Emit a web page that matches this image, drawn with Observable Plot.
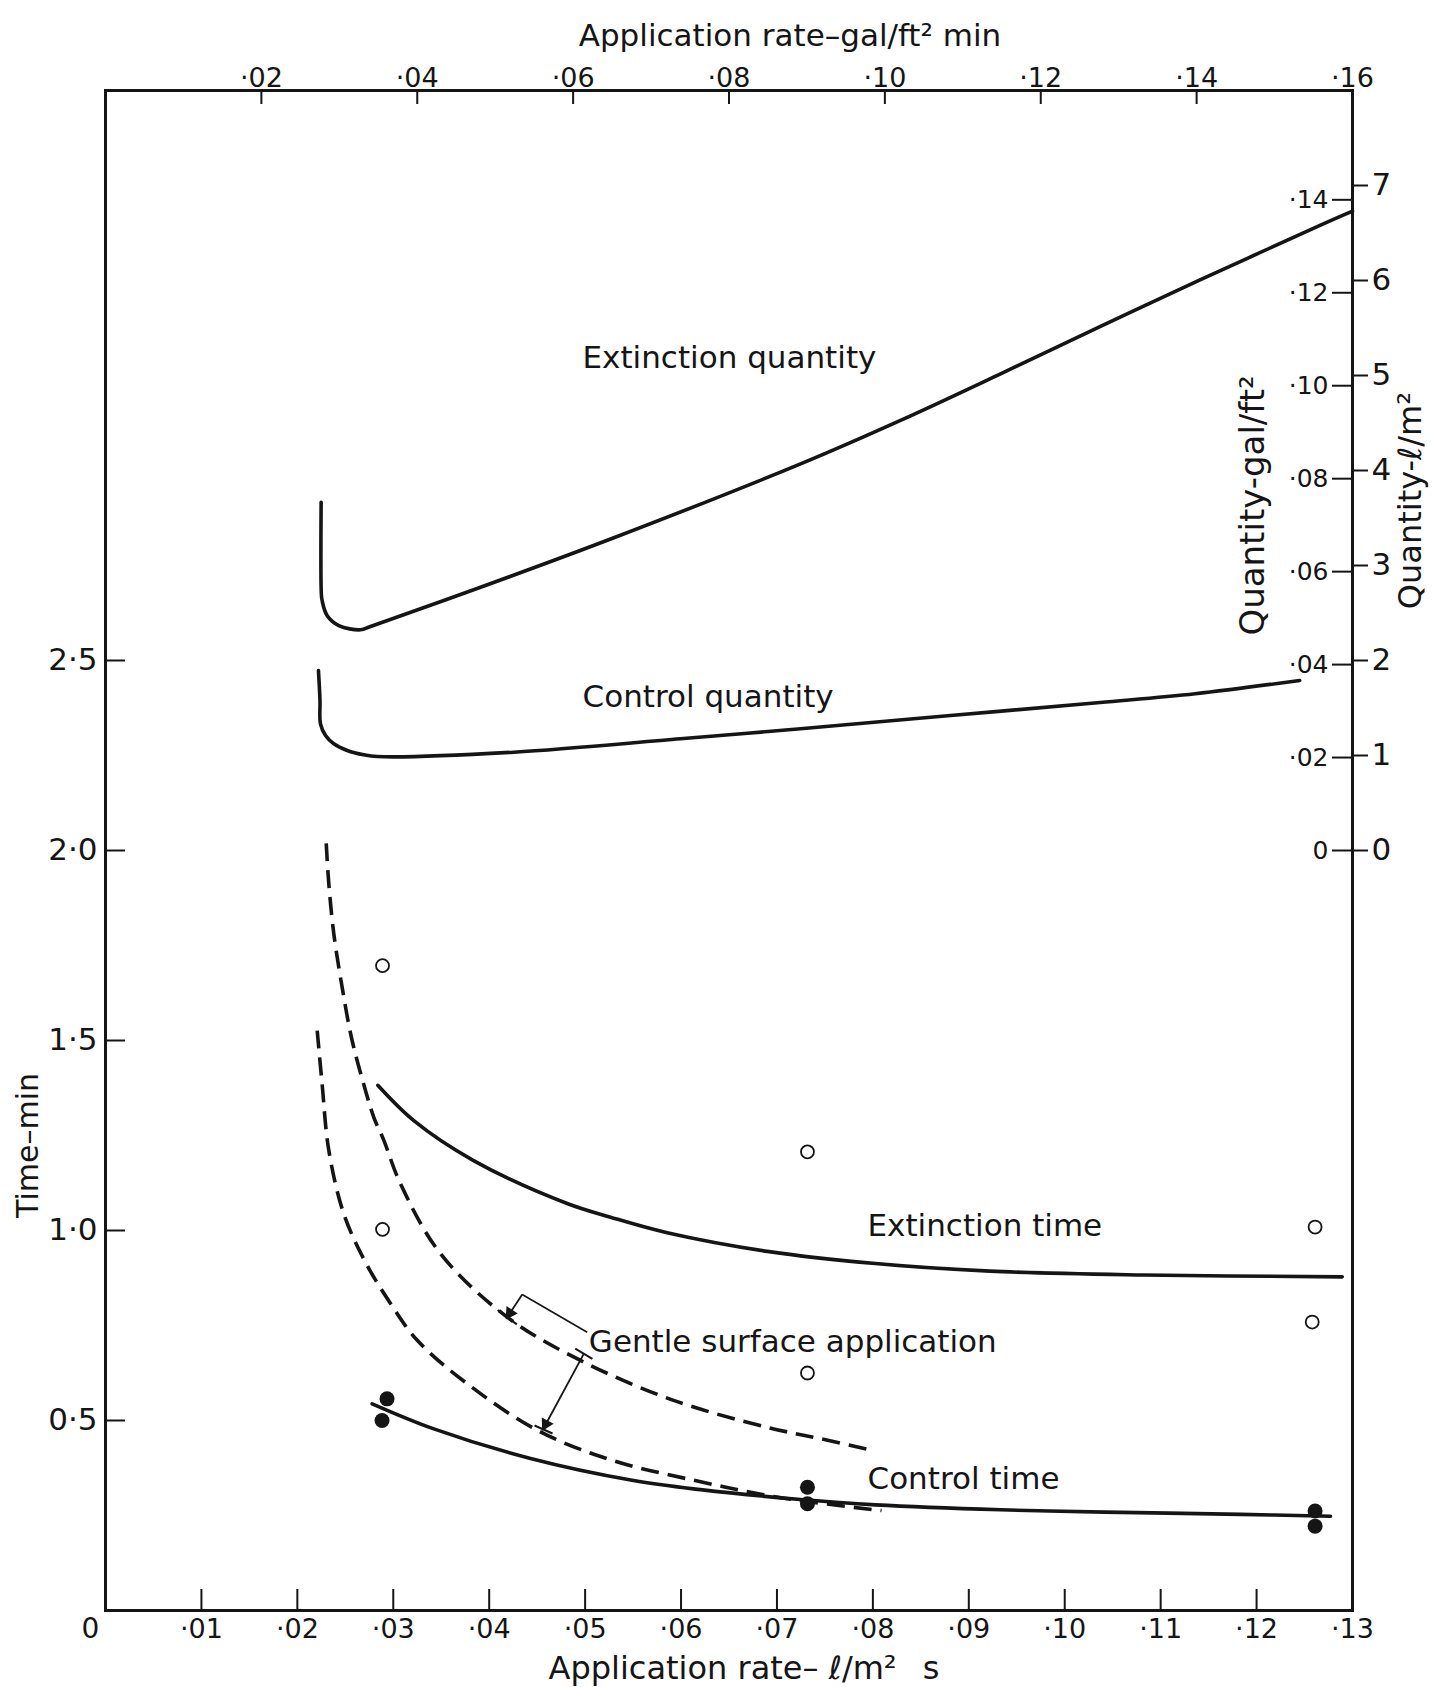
<!DOCTYPE html>
<html>
<head>
<meta charset="utf-8">
<script src="https://cdn.jsdelivr.net/npm/d3@7"></script>
<script src="https://cdn.jsdelivr.net/npm/@observablehq/plot@0.6"></script>
<style>
  html, body { margin: 0; padding: 0; background: #fff; }
  svg { display: block; }
</style>
</head>
<body>
<div id="chart"></div>
<script>
// ---------- tick values ----------
const rateTicks = [0.01,0.02,0.03,0.04,0.05,0.06,0.07,0.08,0.09,0.10,0.11,0.12,0.13]; // l/m² s
const rateGalTicks = [0.02,0.04,0.06,0.08,0.10,0.12,0.14,0.16];                      // gal/ft² min
const timeTicks = [0.5,1.0,1.5,2.0,2.5];                                                // min
const qtyLTicks = [0,1,2,3,4,5,6,7];                                                    // l/m²
const qtyGalTicks = [0,0.02,0.04,0.06,0.08,0.10,0.12,0.14];                             // gal/ft²

// unit conversions of the secondary axes
const RATE_GAL_PER_L = 0.16 / 0.13;   // gal/ft² min per l/m² s (as drawn)
const QTY_GAL_PER_L = 0.02044;        // UK gal/ft² per l/m²
const QTY_ZERO_TIME = 2.0;            // quantity axis zero sits at 2.0 min
const QTY_TIME_PER_L = 0.25;          // 1 l/m² spans 0.25 min on the time axis

// ---------- series (x: application rate l/m² s) ----------
const extQtyRate = [0.02248,0.02250,0.02258,0.02310,0.02432,0.02659,0.02763,0.0391,0.0530,0.07246,0.08288,0.09331,0.10373,0.11416,0.12667,0.1300];
const extQtyVal  = [3.666,2.705,2.632,2.474,2.368,2.323,2.358,2.771,3.292,4.070,4.528,5.018,5.518,6.008,6.583,6.73]; // l/m²

const ctlQtyRate = [0.02220,0.02236,0.02241,0.02294,0.02380,0.02520,0.02693,0.02833,0.04257,0.05994,0.07246,0.0881,0.1037,0.1136,0.1245];
const ctlQtyVal  = [1.895,1.579,1.333,1.210,1.123,1.053,1.007,0.989,1.035,1.176,1.281,1.421,1.558,1.650,1.790]; // l/m²

const extTimeRate = [0.02839,0.03214,0.03837,0.04813,0.05265,0.05856,0.0690,0.08026,0.09222,0.10818,0.12893];
const extTimeVal  = [1.382,1.289,1.184,1.071,1.035,0.994,0.945,0.913,0.893,0.883,0.878]; // min

const ctlTimeRate = [0.0278,0.03423,0.04431,0.05504,0.06203,0.07246,0.08028,0.09331,0.10415,0.11833,0.12771];
const ctlTimeVal  = [0.544,0.478,0.400,0.342,0.318,0.292,0.278,0.265,0.259,0.253,0.248]; // min

const gentleExtRate = [0.02301,0.02328,0.02380,0.02467,0.02571,0.02711,0.02797,0.02902,0.03075,0.03492,0.04188,0.04952,0.05922,0.0690,0.07454,0.08006];
const gentleExtVal  = [2.019,1.912,1.781,1.640,1.500,1.368,1.298,1.237,1.123,0.939,0.772,0.658,0.553,0.482,0.452,0.421];

const gentleCtlRate = [0.02207,0.02258,0.02328,0.02484,0.02711,0.02971,0.03250,0.03770,0.04504,0.05283,0.06147,0.07011,0.08090];
const gentleCtlVal  = [1.526,1.386,1.211,1.044,0.916,0.808,0.711,0.597,0.474,0.395,0.342,0.298,0.263];

const extObsRate = [0.02888,0.02888,0.07318,0.07318,0.1261,0.1258];
const extObsVal  = [1.697,1.003,1.207,0.625,1.009,0.759];
const ctlObsRate = [0.02935,0.02883,0.07318,0.07318,0.1261,0.1261];
const ctlObsVal  = [0.557,0.500,0.3245,0.281,0.262,0.222];

// ---------- annotation text ----------
const curveLabels = ["Extinction quantity","Control quantity","Extinction time","Gentle surface application","Control time"];
const curveLabelRate = [0.04973,0.04973,0.07944,0.05039,0.07944];
const curveLabelVal  = [3.297,2.405,1.0105,0.706,0.345]; // min-axis units

// leader for "Gentle surface application"
const leaderX1 = [0.05022], leaderY1 = [0.7324], leaderX2 = [0.04344], leaderY2 = [0.8316];
const arrowX1 = [0.04344,0.04986], arrowY1 = [0.8316,0.6755], arrowX2 = [0.04188,0.04566], arrowY2 = [0.7718,0.479];
const barX1 = [0.04088,0.04897,0.04473], barY1 = [0.7908,0.689,0.4868];
const barX2 = [0.04288,0.05076,0.04660], barY2 = [0.7529,0.662,0.4658];

// ---------- helpers ----------
const qToTime = q => QTY_ZERO_TIME + q * QTY_TIME_PER_L;
const rows = (xs, ys) => xs.map((x, i) => ({x, y: ys[i]}));
const dotFmt = v => { const n = Math.round(v * 100); return n === 0 ? "0" : "\u00B7" + String(n).padStart(2, "0"); };

const W = 1432, H = 1687;
const mL = 105, mR = 80, mT = 90, mB = 77;
const INK = "#151515";
const FONT = "DejaVu Sans";
const kx = (W - mL - mR) / 0.13, ky = (H - mT - mB) / 4; // px per data unit (for arrowhead orientation)

const arrows = arrowX1.map((x1, i) => ({x1, y1: arrowY1[i], x2: arrowX2[i], y2: arrowY2[i]}));
const heads = arrows.map(a => {
  const sx = (a.x2 - a.x1) * kx, sy = -(a.y2 - a.y1) * ky;
  const len = Math.hypot(sx, sy), ux = sx / len, uy = sy / len;
  return {x: a.x2 - 5 * ux / kx, y: a.y2 + 5 * uy / ky, a: Math.atan2(sx, -sy) * 180 / Math.PI};
});

const lineStyle = {x: "x", y: "y", curve: "catmull-rom", stroke: INK, strokeWidth: 3.6, strokeLinecap: "round"};
const dashStyle = {...lineStyle, strokeDasharray: "18,9", strokeLinecap: "butt"};

const chart = Plot.plot({
  width: W, height: H,
  marginLeft: mL, marginRight: mR, marginTop: mT, marginBottom: mB,
  style: {fontFamily: FONT, background: "#fff", color: INK},
  x: {domain: [0, 0.13], label: null},
  y: {domain: [0, 4], label: null},
  marks: [
    Plot.frame({stroke: INK, strokeWidth: 3}),

    // bottom axis: inner ticks + labels
    Plot.axisX({anchor: "bottom", ticks: rateTicks, tickSize: 21, dy: -21, fill: "none", stroke: INK, strokeWidth: 2, label: null}),
    Plot.axisX({anchor: "bottom", ticks: rateTicks, tickSize: 0, tickPadding: 8, tickFormat: dotFmt, fontSize: 27, label: null}),
    Plot.axisX({anchor: "bottom", ticks: [0], tickSize: 0, tickPadding: 8, tickFormat: () => "0", dx: -15, fontSize: 28, label: null}),

    // top axis (gal/ft² min)
    Plot.axisX({anchor: "top", ticks: rateGalTicks.map(v => v / RATE_GAL_PER_L), tickSize: 13, dy: 13, fill: "none", stroke: INK, strokeWidth: 2, label: null}),
    Plot.axisX({anchor: "top", ticks: rateGalTicks.map(v => v / RATE_GAL_PER_L), tickSize: 0, tickPadding: 4, tickFormat: d => dotFmt(d * RATE_GAL_PER_L), fontSize: 27, label: null}),

    // left axis (time)
    Plot.axisY({anchor: "left", ticks: timeTicks, tickSize: 20, dx: 20, fill: "none", stroke: INK, strokeWidth: 2, label: null}),
    Plot.axisY({anchor: "left", ticks: timeTicks, tickSize: 0, tickPadding: 8, tickFormat: d => d.toFixed(1).replace(".", "\u00B7"), fontSize: 31, label: null}),

    // right axis, l/m² (outside)
    Plot.axisY({anchor: "right", ticks: qtyLTicks.map(qToTime), tickSize: 15, tickPadding: 4, stroke: INK, strokeWidth: 2,
      tickFormat: d => String(Math.round((d - QTY_ZERO_TIME) / QTY_TIME_PER_L)), fontSize: 31, label: null}),
    // right axis, gal/ft² (inside)
    Plot.axisY({anchor: "left", dx: W - mL - mR, ticks: qtyGalTicks.map(g => qToTime(g / QTY_GAL_PER_L)), tickSize: 20, tickPadding: 4, stroke: INK, strokeWidth: 2,
      tickFormat: d => dotFmt(((d - QTY_ZERO_TIME) / QTY_TIME_PER_L) * QTY_GAL_PER_L), fontSize: 25, label: null}),

    // axis titles
    Plot.text(["Application rate\u2013gal/ft\u00B2 min"], {frameAnchor: "top", textAnchor: "middle", lineAnchor: "middle", dx: 61, dy: -54, fontSize: 31, fill: INK}),
    Plot.text(["Application rate\u2013 \u2113/m\u00B2\u2002 s"], {frameAnchor: "bottom", textAnchor: "middle", lineAnchor: "middle", dx: 15, dy: 58, fontSize: 32, fill: INK}),
    Plot.text([{t: 1.224, s: "Time\u2013min"}], {y: "t", text: "s", frameAnchor: "left", textAnchor: "middle", lineAnchor: "middle", dx: -77, rotate: -90, fontSize: 30, fill: INK}),
    Plot.text([{t: 2.908, s: "Quantity-gal/ft\u00B2"}], {y: "t", text: "s", frameAnchor: "right", textAnchor: "middle", lineAnchor: "middle", dx: -99, rotate: -90, fontSize: 34, fill: INK}),
    Plot.text([{t: 2.921, s: "Quantity-\u2113/m\u00B2"}], {y: "t", text: "s", frameAnchor: "right", textAnchor: "middle", lineAnchor: "middle", dx: 58, rotate: -90, fontSize: 32, fill: INK}),

    // curves
    Plot.line(rows(extQtyRate, extQtyVal.map(qToTime)), lineStyle),
    Plot.line(rows(ctlQtyRate, ctlQtyVal.map(qToTime)), lineStyle),
    Plot.line(rows(extTimeRate, extTimeVal), lineStyle),
    Plot.line(rows(ctlTimeRate, ctlTimeVal), lineStyle),
    Plot.line(rows(gentleExtRate, gentleExtVal), dashStyle),
    Plot.line(rows(gentleCtlRate, gentleCtlVal), dashStyle),

    // observations
    Plot.dot(rows(extObsRate, extObsVal), {x: "x", y: "y", r: 6.5, stroke: INK, strokeWidth: 1.8, fill: "#fff"}),
    Plot.dot(rows(ctlObsRate, ctlObsVal), {x: "x", y: "y", r: 7.5, fill: INK, stroke: "none"}),

    // leader lines with arrowheads and bars
    Plot.link(leaderX1.map((x, i) => ({x1: x, y1: leaderY1[i], x2: leaderX2[i], y2: leaderY2[i]})),
      {x1: "x1", y1: "y1", x2: "x2", y2: "y2", stroke: INK, strokeWidth: 1.6}),
    Plot.link(arrows, {x1: "x1", y1: "y1", x2: "x2", y2: "y2", stroke: INK, strokeWidth: 1.8}),
    Plot.dot(heads, {x: "x", y: "y", rotate: "a", symbol: "triangle", r: 5, fill: INK, stroke: "none"}),
    Plot.link(barX1.map((x, i) => ({x1: x, y1: barY1[i], x2: barX2[i], y2: barY2[i]})),
      {x1: "x1", y1: "y1", x2: "x2", y2: "y2", stroke: INK, strokeWidth: 2}),

    // curve labels
    Plot.text(curveLabels.map((s, i) => ({s, x: curveLabelRate[i], y: curveLabelVal[i]})),
      {x: "x", y: "y", text: "s", textAnchor: "start", fontSize: 31, fill: INK})
  ]
});

document.getElementById("chart").appendChild(chart);
</script>
</body>
</html>
